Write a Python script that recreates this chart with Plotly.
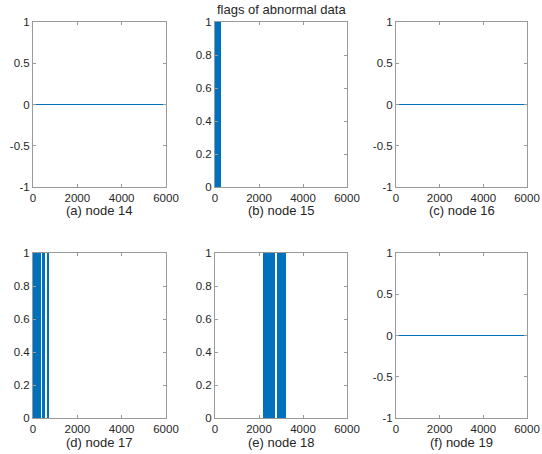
import plotly.graph_objects as go

# ---- data ----
node_labels = ["(a) node 14", "(b) node 15", "(c) node 16",
               "(d) node 17", "(e) node 18", "(f) node 19"]
time_span = [0, 6000]
zero_flags = [0, 0]
# flagged (abnormal) intervals per node: start, end (samples)
node15_start = [0]
node15_end = [280]
node17_start = [0, 390, 640]
node17_end = [350, 560, 690]
node18_start = [2200, 2810]
node18_end = [2740, 3220]
x_ticks = [0, 2000, 4000, 6000]
y_ticks_sym = [-1, -0.5, 0, 0.5, 1]
y_ticks_pos = [0, 0.2, 0.4, 0.6, 0.8, 1]

BLUE = "#0072BD"
W, H = 542, 454
cols_px = [(33, 166), (215, 347), (396, 527)]
rows_px = [(22, 187), (253, 418)]


def px_x(p):
    return p / W


def px_y(p):
    return 1 - p / H


FONT = "Liberation Sans"
TXT = "#262626"

fig = go.Figure()

panels = [
    ("line", None, None),
    ("bar", node15_start, node15_end),
    ("line", None, None),
    ("bar", node17_start, node17_end),
    ("bar", node18_start, node18_end),
    ("line", None, None),
]

for i, (kind, s, e) in enumerate(panels):
    r, c = divmod(i, 3)
    n = i + 1
    xa = "x" if n == 1 else f"x{n}"
    ya = "y" if n == 1 else f"y{n}"
    if kind == "line":
        fig.add_trace(go.Scatter(x=time_span, y=zero_flags, mode="lines",
                                 line=dict(color=BLUE, width=1),
                                 xaxis=xa, yaxis=ya, showlegend=False))
        yr, yt = [-1, 1], y_ticks_sym
    else:
        centers = [(a + b) / 2 for a, b in zip(s, e)]
        widths = [b - a for a, b in zip(s, e)]
        fig.add_trace(go.Bar(x=centers, y=[1] * len(s), width=widths,
                             marker=dict(color=BLUE, line=dict(width=0)),
                             xaxis=xa, yaxis=ya, showlegend=False))
        yr, yt = [0, 1], y_ticks_pos
    x0, x1 = cols_px[c]
    y0, y1 = rows_px[r]
    axis_common = dict(showline=True, linecolor="#9a9a9a", linewidth=1,
                       mirror="ticks", ticks="inside", ticklen=3,
                       tickcolor="#9a9a9a", showgrid=False, zeroline=False,
                       automargin=False,
                       tickfont=dict(family=FONT, size=11.5, color=TXT))
    fig.layout[f"xaxis{'' if n == 1 else n}"] = dict(
        domain=[px_x(x0), px_x(x1)], anchor=ya, range=time_span,
        tickvals=x_ticks, ticktext=[str(t) for t in x_ticks],
        **axis_common)
    fig.layout[f"yaxis{'' if n == 1 else n}"] = dict(
        domain=[px_y(y1), px_y(y0)], anchor=xa, range=yr,
        tickvals=yt, ticktext=[f"{t:g}" for t in yt], **axis_common)
    # panel caption under the x axis
    fig.add_annotation(text=node_labels[i], xref="paper", yref="paper",
                       x=px_x((x0 + x1) / 2), y=px_y(y1 + 24),
                       xanchor="center", yanchor="middle", showarrow=False,
                       font=dict(family=FONT, size=13, color=TXT))

fig.add_annotation(text="flags of abnormal data", xref="paper", yref="paper",
                   x=px_x((215 + 347) / 2), y=px_y(10),
                   xanchor="center", yanchor="middle", showarrow=False,
                   font=dict(family=FONT, size=13, color=TXT))

fig.update_layout(width=W, height=H, margin=dict(l=0, r=0, t=0, b=0),
                  paper_bgcolor="white", plot_bgcolor="white", bargap=0)

fig.write_html("out.html", config={"displayModeBar": False},
               post_script="document.body.style.margin='0';"
                           "document.body.style.overflow='hidden';")
